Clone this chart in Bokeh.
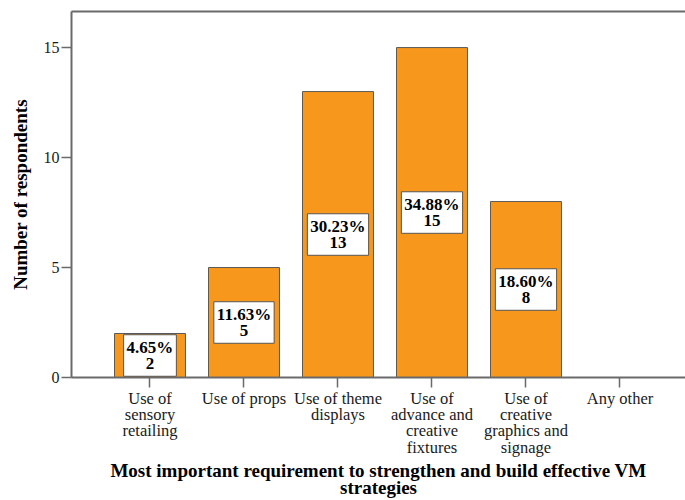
from bokeh.plotting import figure
from bokeh.models import Range1d, FixedTicker, LinearAxis, Label
from bokeh.embed import file_html
from bokeh.resources import INLINE

# Survey responses: most important requirement for effective VM strategies
categories = [
    "Use of\nsensory\nretailing",
    "Use of props",
    "Use of theme\ndisplays",
    "Use of\nadvance and\ncreative\nfixtures",
    "Use of\ncreative\ngraphics and\nsignage",
    "Any other",
]
counts = [2, 5, 13, 15, 8, 0]
y_ticks = [0, 5, 10, 15]
x_title = "Most important requirement to strengthen and build effective VM\nstrategies"
y_title = "Number of respondents"

total = sum(counts)
positions = list(range(len(categories)))

SERIF = "Liberation Serif"
AXIS_GREY = "#6a6a6a"
TEXT = "#1a1a1a"
BAR_FILL = "#F7981D"

p = figure(
    width=685, height=500,
    output_backend="svg", toolbar_location=None,
    x_range=Range1d(-0.835, 5.697),
    y_range=Range1d(0, 16.64),
    min_border_left=71, min_border_right=0,
    min_border_top=11, min_border_bottom=123,
)
p.background_fill_color = "white"
p.border_fill_color = "white"
p.outline_line_color = None
p.xgrid.visible = False
p.ygrid.visible = False

p.vbar(x=positions, top=counts, width=0.755,
       fill_color=BAR_FILL, line_color="#5a5a5a", line_width=1)

# Boxed "percent / count" labels centred halfway up each bar
for x, c in zip(positions, counts):
    if c == 0:
        continue
    p.add_layout(Label(
        x=x, y=c / 2,
        text=f"{100 * c / total:.2f}%\n{c}",
        text_align="center", text_baseline="middle",
        text_font=SERIF, text_font_style="bold", text_font_size="17px",
        text_line_height=0.87, text_color="black",
        background_fill_color="white",
        border_line_color="#555555", border_line_width=1,
        padding=3,
    ))

# x axis
xa = p.xaxis[0]
xa.ticker = FixedTicker(ticks=positions)
xa.major_label_overrides = {x: lab for x, lab in zip(positions, categories)}
xa.major_tick_out = 10
xa.major_tick_in = 0
xa.minor_tick_line_color = None
xa.axis_line_color = AXIS_GREY
xa.axis_line_width = 2
xa.major_tick_line_color = AXIS_GREY
xa.major_tick_line_width = 1.5
xa.major_label_standoff = 1
xa.major_label_text_font = SERIF
xa.major_label_text_font_size = "16.5px"
xa.major_label_text_line_height = 0.86
xa.major_label_text_color = TEXT
xa.axis_label = x_title
xa.axis_label_text_font = SERIF
xa.axis_label_text_font_style = "bold"
xa.axis_label_text_font_size = "19px"
xa.axis_label_text_line_height = 0.82
xa.axis_label_text_color = "black"
xa.axis_label_standoff = 0

# y axis
ya = p.yaxis[0]
ya.ticker = FixedTicker(ticks=y_ticks)
ya.major_tick_out = 10
ya.major_tick_in = 0
ya.minor_tick_line_color = None
ya.axis_line_color = AXIS_GREY
ya.axis_line_width = 2
ya.major_tick_line_color = AXIS_GREY
ya.major_tick_line_width = 1.5
ya.major_label_standoff = 2
ya.major_label_text_font = SERIF
ya.major_label_text_font_size = "16px"
ya.major_label_text_color = TEXT
ya.axis_label = y_title
ya.axis_label_text_font = SERIF
ya.axis_label_text_font_style = "bold"
ya.axis_label_text_font_size = "19px"
ya.axis_label_text_color = "black"
ya.axis_label_standoff = 10

# plain rule along the top edge of the plot area
top = LinearAxis(ticker=FixedTicker(ticks=[]), axis_line_color=AXIS_GREY,
                 axis_line_width=2, major_tick_line_color=None,
                 minor_tick_line_color=None)
p.add_layout(top, "above")

open("out.html", "w").write(file_html(p, INLINE))
